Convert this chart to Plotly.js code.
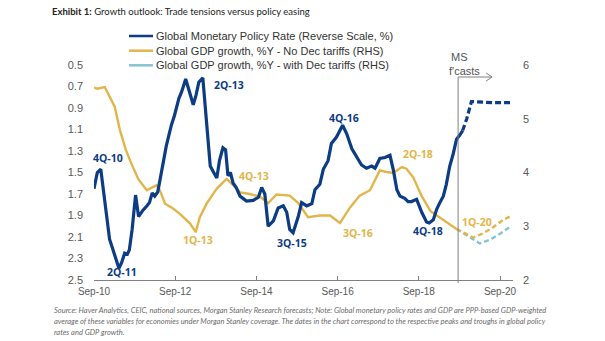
<!DOCTYPE html>
<html>
<head>
<meta charset="utf-8">
<script src="https://cdn.plot.ly/plotly-3.0.1.min.js"></script>
<style>html,body{margin:0;padding:0;background:#fff;}#chart{width:605px;height:341px;}</style>
</head>
<body>
<div id="chart"></div>
<script>
// ---- Data ----
const policyDates = ['2010-09-01','2010-10-01','2010-11-01','2011-01-19','2011-02-13','2011-03-13','2011-04-13','2011-05-07','2011-06-04','2011-06-28','2011-07-16','2011-08-10','2011-09-10','2011-10-07','2011-11-16','2011-12-22','2012-01-13','2012-02-07','2012-03-01','2012-03-28','2012-04-28','2012-06-13','2012-07-28','2012-08-25','2012-10-04','2012-10-28','2012-12-04','2013-01-10','2013-02-10','2013-03-07','2013-04-01','2013-05-07','2013-06-07','2013-07-13','2013-08-13','2013-09-10','2013-10-04','2013-11-04','2013-11-28','2013-12-19','2014-01-10','2014-02-04','2014-03-04','2014-04-07','2014-06-04','2014-08-04','2014-09-19','2014-10-19','2014-11-16','2014-12-16','2015-02-01','2015-03-16','2015-05-01','2015-06-01','2015-06-28','2015-07-28','2015-09-13','2015-10-13','2015-11-28','2016-01-13','2016-02-10','2016-03-25','2016-04-25','2016-06-07','2016-07-07','2016-08-22','2016-10-16','2016-11-22','2017-01-07','2017-02-19','2017-04-04','2017-05-19','2017-07-04','2017-08-04','2017-09-16','2017-11-01','2017-12-16','2018-01-16','2018-02-16','2018-03-16','2018-04-28','2018-05-28','2018-06-28','2018-08-13','2018-09-28','2018-11-10','2018-12-04','2019-01-10','2019-02-10','2019-03-10','2019-04-10','2019-05-07','2019-06-07','2019-07-07','2019-08-07','2019-09-07','2019-10-01'];
const policyRate = [1.65,1.50,1.47,2.12,2.20,2.28,2.39,2.34,2.25,2.26,2.22,2.03,1.71,1.91,1.85,1.81,1.78,1.69,1.72,1.68,1.52,1.25,1.06,0.97,0.81,0.75,0.63,0.75,0.87,0.78,0.66,0.62,1.00,1.44,1.50,1.55,1.39,1.27,1.29,1.53,1.50,1.60,1.64,1.72,1.765,1.76,1.73,1.64,1.70,2.00,1.95,1.83,1.81,1.87,2.03,2.06,1.91,1.78,1.81,1.79,1.66,1.61,1.47,1.39,1.23,1.17,1.06,1.14,1.28,1.36,1.43,1.46,1.44,1.46,1.37,1.36,1.34,1.48,1.66,1.72,1.74,1.77,1.77,1.75,1.87,1.96,1.97,1.94,1.84,1.78,1.72,1.61,1.44,1.33,1.19,1.15,1.11];
const policyFcDates = ['2019-10-01','2019-11-07','2019-12-19','2020-06-30','2020-12-16'];
const policyFc = [1.11,1.00,0.84,0.85,0.85];

const gdpDates = ['2010-09-01','2010-10-01','2010-12-07','2011-01-22','2011-03-07','2011-04-22','2011-06-13','2011-08-04','2011-10-04','2011-12-19','2012-03-16','2012-04-16','2012-06-01','2012-08-13','2012-10-13','2013-01-13','2013-03-04','2013-04-10','2013-06-10','2013-09-10','2013-12-07','2014-02-07','2014-04-07','2014-07-04','2014-10-04','2014-12-16','2015-03-01','2015-06-28','2015-09-13','2015-12-10','2016-03-25','2016-06-25','2016-09-22','2016-12-22','2017-03-19','2017-06-19','2017-09-16','2017-11-16','2018-01-16','2018-04-01','2018-05-13','2018-07-13','2018-09-28','2018-12-16','2019-04-10','2019-08-07'];
const gdpGrowth = [5.58,5.56,5.59,5.41,5.22,4.79,4.43,4.16,3.88,3.67,3.76,3.67,3.42,3.33,3.23,3.05,2.89,3.17,3.42,3.70,3.88,3.76,3.63,3.60,3.55,3.43,3.59,3.57,3.43,3.17,3.20,3.20,3.06,3.35,3.57,3.67,4.04,4.01,3.99,4.10,4.07,3.91,3.56,3.28,3.11,2.95];
const gdpFcDates = ['2019-08-07','2020-01-04','2020-04-04','2020-07-01','2020-10-01','2020-12-16'];
const gdpFcNoTariff = [2.95,2.79,2.87,2.98,3.12,3.20];
const gdpFcTariffDates = ['2019-08-07','2019-12-04','2020-03-04','2020-06-04','2020-09-01','2020-12-16'];
const gdpFcTariff = [2.95,2.79,2.68,2.75,2.86,3.01];

const seriesNames = ['Global Monetary Policy Rate (Reverse Scale, %)','Global GDP growth, %Y - No Dec tariffs (RHS)','Global GDP growth, %Y - with Dec tariffs (RHS)'];

// Peak/trough labels: [text, date, left-axis position, colour key]
const peakLabels = [
  ['4Q-10','2011-01-04',1.365,'b'],
  ['2Q-11','2011-05-13',2.43,'b'],
  ['2Q-13','2013-12-25',0.686,'b'],
  ['1Q-13','2013-03-25',2.128,'g'],
  ['4Q-13','2014-08-10',1.533,'g'],
  ['3Q-15','2015-07-22',2.159,'b'],
  ['3Q-16','2017-02-28',2.066,'g'],
  ['4Q-16','2016-10-28',0.996,'b'],
  ['2Q-18','2018-08-22',1.328,'g'],
  ['4Q-18','2018-11-25',2.041,'b'],
  ['1Q-20','2020-02-04',1.963,'g']
];
const forecastStart = '2019-08-21';

// ---- Styles ----
const BLUE = '#0c3c84', GOLD = '#e2b54b', LIGHT = '#86c3d7';
const AX = '#808080', TXT = '#595959';
const SANS = 'Liberation Sans, Arial, sans-serif';

const traces = [
  {x: gdpFcTariffDates, y: gdpFcTariff, yaxis: 'y', mode: 'lines', line: {color: LIGHT, width: 2.4, dash: '5px,3px'}},
  {x: gdpDates, y: gdpGrowth, yaxis: 'y', mode: 'lines', line: {color: GOLD, width: 2.4}},
  {x: gdpFcDates, y: gdpFcNoTariff, yaxis: 'y', mode: 'lines', line: {color: GOLD, width: 2.4, dash: '5px,3px'}},
  {x: policyDates, y: policyRate, yaxis: 'y2', mode: 'lines', line: {color: BLUE, width: 3.2}},
  {x: policyFcDates, y: policyFc, yaxis: 'y2', mode: 'lines', line: {color: BLUE, width: 3.2, dash: '6px,3px'}}
];

const H = 215, T = 65, W = 419, L = 94;
const py = p => (T + H - p) / H;     // pixel row -> paper y
const px = p => (p - L) / W;         // pixel col -> paper x

const annotations = peakLabels.map(l => ({
  x: l[1], y: l[2], xref: 'x', yref: 'y2', showarrow: false,
  text: '<b>' + l[0] + '</b>', xanchor: 'center', yanchor: 'middle',
  font: {family: 'Open Sans, sans-serif', size: 10.5, color: l[3] === 'b' ? BLUE : GOLD}
}));

const legendColors = [BLUE, GOLD, LIGHT];
const legendRows = [36, 50.7, 65.3];
const shapes = [];
seriesNames.forEach((n, i) => {
  shapes.push({type: 'line', xref: 'paper', yref: 'paper', x0: px(129), x1: px(153), y0: py(legendRows[i]), y1: py(legendRows[i]), line: {color: legendColors[i], width: 2.5}});
  annotations.push({xref: 'paper', yref: 'paper', x: px(154), y: py(legendRows[i]), xanchor: 'left', yanchor: 'middle', showarrow: false, text: n, font: {family: SANS, size: 11, color: '#333'}});
});

// forecast marker
shapes.push({type: 'line', xref: 'x', yref: 'paper', x0: forecastStart, x1: forecastStart, y0: py(283), y1: py(77), line: {color: AX, width: 1}});
shapes.push({type: 'line', xref: 'x', xsizemode: 'pixel', xanchor: forecastStart, x0: 0, x1: 34, yref: 'paper', y0: py(77), y1: py(77), line: {color: AX, width: 1}});
shapes.push({type: 'line', xref: 'x', xsizemode: 'pixel', xanchor: forecastStart, x0: 28, x1: 34, yref: 'paper', ysizemode: 'pixel', yanchor: py(77), y0: 4, y1: 0, line: {color: AX, width: 1}});
shapes.push({type: 'line', xref: 'x', xsizemode: 'pixel', xanchor: forecastStart, x0: 28, x1: 34, yref: 'paper', ysizemode: 'pixel', yanchor: py(77), y0: -4, y1: 0, line: {color: AX, width: 1}});
annotations.push({xref: 'x', yref: 'paper', x: forecastStart, y: py(57.5), xanchor: 'left', yanchor: 'middle', xshift: -9, showarrow: false, text: 'MS', font: {family: SANS, size: 11, color: '#555'}});
annotations.push({xref: 'x', yref: 'paper', x: forecastStart, y: py(71), xanchor: 'left', yanchor: 'middle', xshift: -11, showarrow: false, text: "f'casts", font: {family: SANS, size: 11, color: '#555'}});

// footnote
const foot = [
  'Source: Haver Analytics, CEIC, national sources, Morgan Stanley Research forecasts; Note: Global monetary policy rates and GDP are PPP-based GDP-weighted',
  'average of these variables for economies under Morgan Stanley coverage. The dates in the chart correspond to the respective peaks and troughs in global policy',
  'rates and GDP growth.'
];
const footRows = [310, 321, 332];
foot.forEach((t, i) => annotations.push({xref: 'paper', yref: 'paper', x: px(52), y: py(footRows[i]), xanchor: 'left', yanchor: 'middle', showarrow: false, text: '<i>' + t + '</i>', font: {family: 'Lato, sans-serif', size: 7.5, color: '#6b6b6b'}}));

const layout = {
  width: 605, height: 341,
  margin: {l: L, r: 605 - L - W, t: T, b: 341 - T - H},
  paper_bgcolor: '#fff', plot_bgcolor: '#fff',
  showlegend: false,
  title: {text: '<b>Exhibit 1:</b> Growth outlook: Trade tensions versus policy easing', x: 52 / 605, xref: 'container', xanchor: 'left', y: 1 - 11.5 / 341, yref: 'container', yanchor: 'middle', font: {family: 'Lato, sans-serif', size: 9.5, color: '#222'}},
  xaxis: {type: 'date', range: ['2010-09-01', '2020-12-27'], tick0: '2010-09-01', dtick: 'M24', tickformat: '%b-%y',
    ticks: 'inside', ticklen: 4, tickcolor: AX, showline: true, linecolor: AX, linewidth: 1, showgrid: false, zeroline: false,
    tickfont: {family: SANS, size: 10, color: TXT}, ticklabelstandoff: 2},
  yaxis: {side: 'right', range: [2, 6], dtick: 1, tick0: 2, showgrid: false, zeroline: false, showline: false, ticks: '',
    tickfont: {family: SANS, size: 11, color: TXT}, ticklabelstandoff: 9},
  yaxis2: {overlaying: 'y', side: 'left', range: [2.5, 0.5], tick0: 0.5, dtick: 0.2, tickformat: '.1f', showgrid: false, zeroline: false, showline: false, ticks: '',
    tickfont: {family: SANS, size: 11, color: TXT}, ticklabelstandoff: 10},
  shapes: shapes,
  annotations: annotations
};

Plotly.newPlot('chart', traces, layout, {staticPlot: true, displayModeBar: false});
</script>
</body>
</html>
